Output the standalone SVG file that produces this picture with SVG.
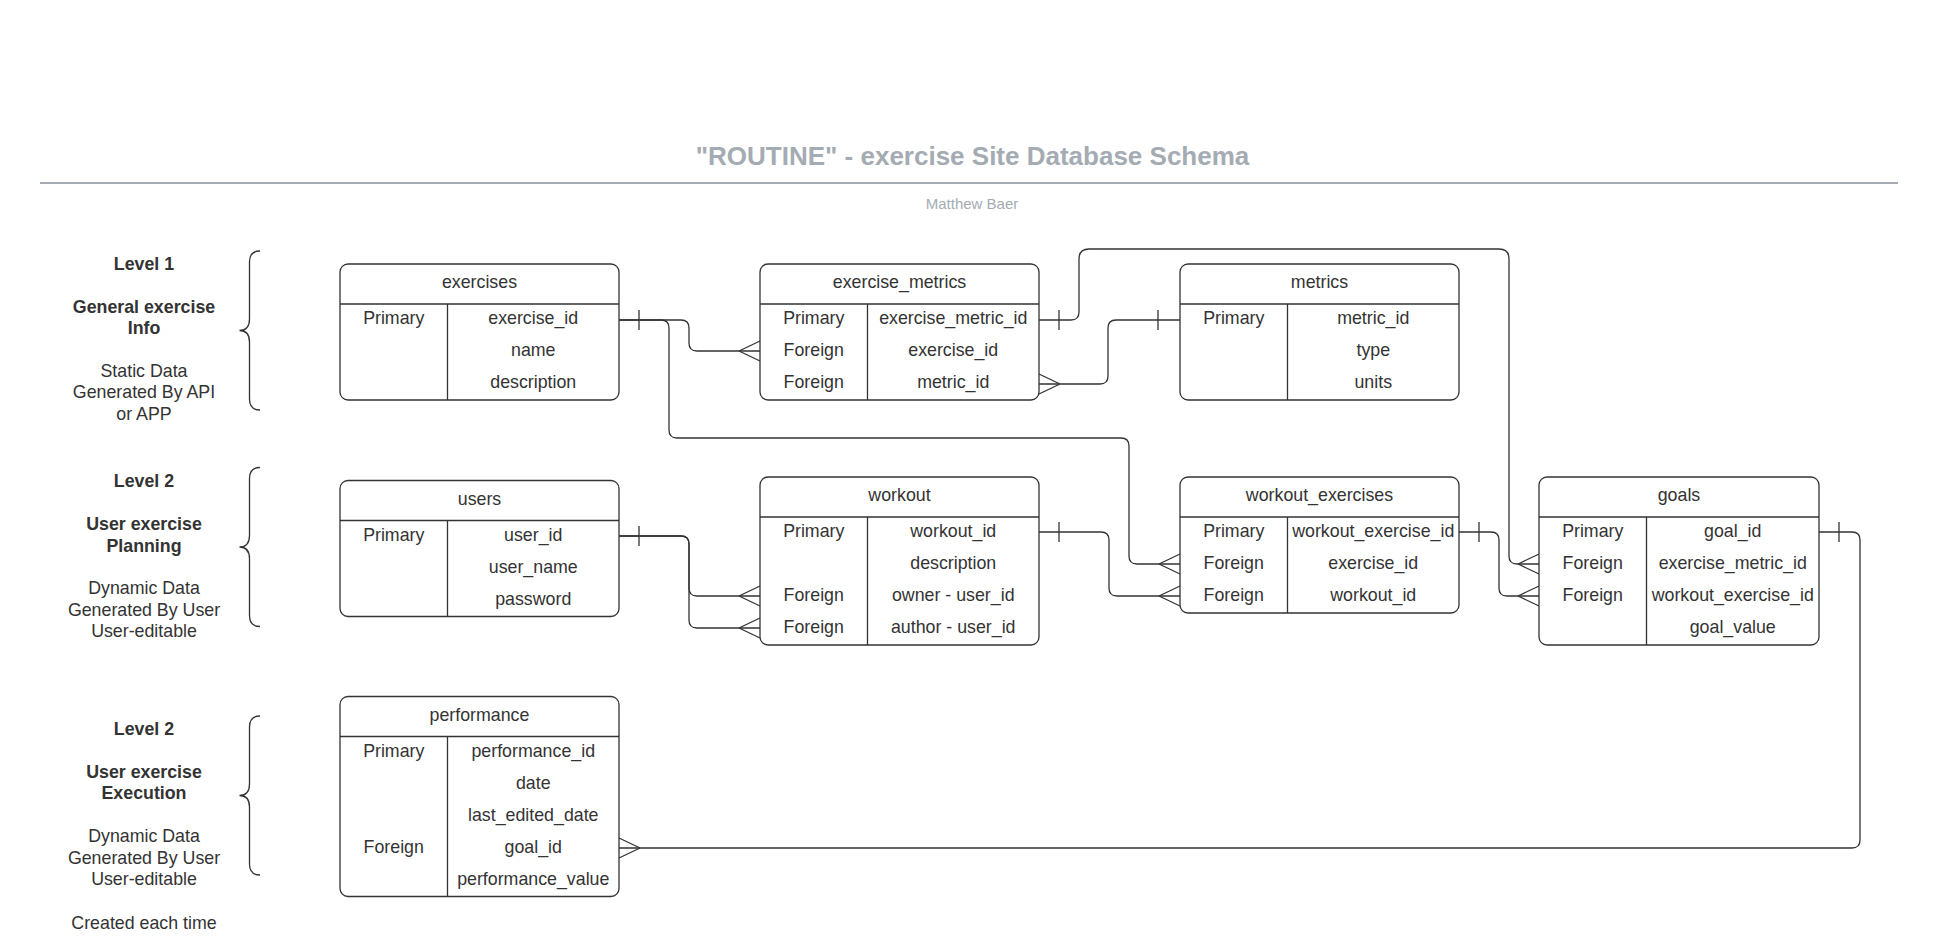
<svg xmlns="http://www.w3.org/2000/svg" width="1940" height="936" viewBox="0 0 1940 936">
<style>
.bg{fill:#ffffff}
.box{fill:#ffffff;stroke:#333333;stroke-width:1.3}
.ln{fill:none;stroke:#333333;stroke-width:1.3}
.t{font-family:"Liberation Sans",Arial,sans-serif;font-size:17.8px;fill:#333333;text-anchor:middle}
.b{font-weight:bold}
.c{fill:none;stroke:#333333;stroke-width:1.3}
.ttl{font-family:"Liberation Sans",Arial,sans-serif;font-size:26px;font-weight:bold;fill:#a5abb3;text-anchor:middle}
.sub{font-family:"Liberation Sans",Arial,sans-serif;font-size:15px;fill:#a5abb3;text-anchor:middle}
</style>
<defs>
<path id="tick" d="M0,-10 V10" class="c"/>
<path id="crowR" d="M0,0 L21,-10 M0,0 L21,10" class="c"/>
<path id="crowL" d="M0,0 L-21,-10 M0,0 L-21,10" class="c"/>
</defs>
<rect class="bg" x="0" y="0" width="1940" height="936"/>

<g id="title">
<text class="ttl" x="972.5" y="164.5">"ROUTINE" - exercise Site Database Schema</text>
<line x1="40" y1="183" x2="1898" y2="183" stroke="#a5abb3" stroke-width="2"/>
<text class="sub" x="972" y="209">Matthew Baer</text>
</g>

<g id="level1">
<text class="t b" x="144" y="270">Level 1</text>
<text class="t b" x="144" y="312.8">General exercise</text>
<text class="t b" x="144" y="334.2">Info</text>
<text class="t" x="144" y="377">Static Data</text>
<text class="t" x="144" y="398.4">Generated By API</text>
<text class="t" x="144" y="419.8">or APP</text>
<path class="ln" d="M260,251 Q249.5,251 249.5,262 V319 Q249.5,330.5 239.5,330.5 Q249.5,330.5 249.5,342 V399 Q249.5,410 260,410"/>
</g>

<g id="level2">
<text class="t b" x="144" y="487.3">Level 2</text>
<text class="t b" x="144" y="530.1">User exercise</text>
<text class="t b" x="144" y="551.5">Planning</text>
<text class="t" x="144" y="594.3">Dynamic Data</text>
<text class="t" x="144" y="615.7">Generated By User</text>
<text class="t" x="144" y="637.1">User-editable</text>
<path class="ln" d="M260,467.5 Q249.5,467.5 249.5,478.5 V535.5 Q249.5,547 239.5,547 Q249.5,547 249.5,558.5 V615.5 Q249.5,626.5 260,626.5"/>
</g>

<g id="level3">
<text class="t b" x="144" y="735.2">Level 2</text>
<text class="t b" x="144" y="778">User exercise</text>
<text class="t b" x="144" y="799.4">Execution</text>
<text class="t" x="144" y="842.2">Dynamic Data</text>
<text class="t" x="144" y="863.6">Generated By User</text>
<text class="t" x="144" y="885">User-editable</text>
<text class="t" x="144" y="929">Created each time</text>
<path class="ln" d="M260,716 Q249.5,716 249.5,727 V784 Q249.5,795.5 239.5,795.5 Q249.5,795.5 249.5,807 V864 Q249.5,875 260,875"/>
</g>

<g id="connectors">
<!-- exercises.exercise_id -> exercise_metrics.exercise_id -->
<path class="c" d="M619,320 H681 Q689,320 689,328 V343 Q689,351 697,351 H760"/>
<use href="#tick" x="639" y="320"/>
<use href="#crowR" x="739" y="351"/>
<!-- exercises.exercise_id -> workout_exercises.exercise_id -->
<path class="c" d="M619,320 H661 Q669,320 669,328 V430 Q669,438 677,438 H1121 Q1129,438 1129,446 V556 Q1129,564 1137,564 H1180"/>
<use href="#crowR" x="1159" y="564"/>
<!-- exercise_metrics.metric_id -> metrics.metric_id -->
<path class="c" d="M1039,384 H1100 Q1108,384 1108,376 V328 Q1108,320 1116,320 H1180"/>
<use href="#crowL" x="1060" y="384"/>
<use href="#tick" x="1158" y="320"/>
<!-- exercise_metrics.exercise_metric_id -> goals.exercise_metric_id -->
<path class="c" d="M1039,320 H1071 Q1079,320 1079,312 V259 Q1079,249 1089,249 H1499 Q1509,249 1509,259 V556 Q1509,564 1517,564 H1539"/>
<use href="#tick" x="1059" y="320"/>
<use href="#crowR" x="1518" y="564"/>
<!-- users.user_id -> workout.owner -->
<path class="c" d="M619,536 H681 Q689,536 689,544 V588 Q689,596 697,596 H760"/>
<use href="#tick" x="639" y="536"/>
<use href="#crowR" x="739" y="596"/>
<!-- users.user_id -> workout.author -->
<path class="c" d="M619,536 H681 Q689,536 689,544 V620 Q689,628 697,628 H760"/>
<use href="#crowR" x="739" y="628"/>
<!-- workout.workout_id -> workout_exercises.workout_id -->
<path class="c" d="M1039,532 H1101 Q1109,532 1109,540 V588 Q1109,596 1117,596 H1180"/>
<use href="#tick" x="1059" y="532"/>
<use href="#crowR" x="1159" y="596"/>
<!-- workout_exercises.workout_exercise_id -> goals.workout_exercise_id -->
<path class="c" d="M1459,532 H1491 Q1499,532 1499,540 V588 Q1499,596 1507,596 H1539"/>
<use href="#tick" x="1479" y="532"/>
<use href="#crowR" x="1518" y="596"/>
<!-- goals.goal_id -> performance.goal_id -->
<path class="c" d="M1819,532 H1852 Q1860,532 1860,540 V840 Q1860,848 1852,848 H619"/>
<use href="#tick" x="1839" y="532"/>
<use href="#crowL" x="640" y="848"/>
</g>

<g id="exercises">
<rect class="box" x="340" y="264" width="279" height="136" rx="8"/>
<path class="ln" d="M340,304 H619 M447.5,304 V400"/>
<text class="t" x="479.5" y="288">exercises</text>
<text class="t" x="393.75" y="324">Primary</text>
<text class="t" x="533.25" y="324">exercise_id</text>
<text class="t" x="533.25" y="356">name</text>
<text class="t" x="533.25" y="388">description</text>
</g>

<g id="exercise_metrics">
<rect class="box" x="760" y="264" width="279" height="136" rx="8"/>
<path class="ln" d="M760,304 H1039 M867.5,304 V400"/>
<text class="t" x="899.5" y="288">exercise_metrics</text>
<text class="t" x="813.75" y="324">Primary</text>
<text class="t" x="953.25" y="324">exercise_metric_id</text>
<text class="t" x="813.75" y="356">Foreign</text>
<text class="t" x="953.25" y="356">exercise_id</text>
<text class="t" x="813.75" y="388">Foreign</text>
<text class="t" x="953.25" y="388">metric_id</text>
</g>

<g id="metrics">
<rect class="box" x="1180" y="264" width="279" height="136" rx="8"/>
<path class="ln" d="M1180,304 H1459 M1287.5,304 V400"/>
<text class="t" x="1319.5" y="288">metrics</text>
<text class="t" x="1233.75" y="324">Primary</text>
<text class="t" x="1373.25" y="324">metric_id</text>
<text class="t" x="1373.25" y="356">type</text>
<text class="t" x="1373.25" y="388">units</text>
</g>

<g id="users">
<rect class="box" x="340" y="480.5" width="279" height="136" rx="8"/>
<path class="ln" d="M340,520.5 H619 M447.5,520.5 V616.5"/>
<text class="t" x="479.5" y="504.5">users</text>
<text class="t" x="393.75" y="540.5">Primary</text>
<text class="t" x="533.25" y="540.5">user_id</text>
<text class="t" x="533.25" y="572.5">user_name</text>
<text class="t" x="533.25" y="604.5">password</text>
</g>

<g id="workout">
<rect class="box" x="760" y="477" width="279" height="168" rx="8"/>
<path class="ln" d="M760,517 H1039 M867.5,517 V645"/>
<text class="t" x="899.5" y="501">workout</text>
<text class="t" x="813.75" y="537">Primary</text>
<text class="t" x="953.25" y="537">workout_id</text>
<text class="t" x="953.25" y="569">description</text>
<text class="t" x="813.75" y="601">Foreign</text>
<text class="t" x="953.25" y="601">owner - user_id</text>
<text class="t" x="813.75" y="633">Foreign</text>
<text class="t" x="953.25" y="633">author - user_id</text>
</g>

<g id="workout_exercises">
<rect class="box" x="1180" y="477" width="279" height="136" rx="8"/>
<path class="ln" d="M1180,517 H1459 M1287.5,517 V613"/>
<text class="t" x="1319.5" y="501">workout_exercises</text>
<text class="t" x="1233.75" y="537">Primary</text>
<text class="t" x="1373.25" y="537">workout_exercise_id</text>
<text class="t" x="1233.75" y="569">Foreign</text>
<text class="t" x="1373.25" y="569">exercise_id</text>
<text class="t" x="1233.75" y="601">Foreign</text>
<text class="t" x="1373.25" y="601">workout_id</text>
</g>

<g id="goals">
<rect class="box" x="1539" y="477" width="280" height="168" rx="8"/>
<path class="ln" d="M1539,517 H1819 M1646.5,517 V645"/>
<text class="t" x="1679" y="501">goals</text>
<text class="t" x="1592.75" y="537">Primary</text>
<text class="t" x="1732.75" y="537">goal_id</text>
<text class="t" x="1592.75" y="569">Foreign</text>
<text class="t" x="1732.75" y="569">exercise_metric_id</text>
<text class="t" x="1592.75" y="601">Foreign</text>
<text class="t" x="1732.75" y="601">workout_exercise_id</text>
<text class="t" x="1732.75" y="633">goal_value</text>
</g>

<g id="performance">
<rect class="box" x="340" y="696.5" width="279" height="200" rx="8"/>
<path class="ln" d="M340,736.5 H619 M447.5,736.5 V896.5"/>
<text class="t" x="479.5" y="720.5">performance</text>
<text class="t" x="393.75" y="756.5">Primary</text>
<text class="t" x="533.25" y="756.5">performance_id</text>
<text class="t" x="533.25" y="788.5">date</text>
<text class="t" x="533.25" y="820.5">last_edited_date</text>
<text class="t" x="393.75" y="852.5">Foreign</text>
<text class="t" x="533.25" y="852.5">goal_id</text>
<text class="t" x="533.25" y="884.5">performance_value</text>
</g>
</svg>
